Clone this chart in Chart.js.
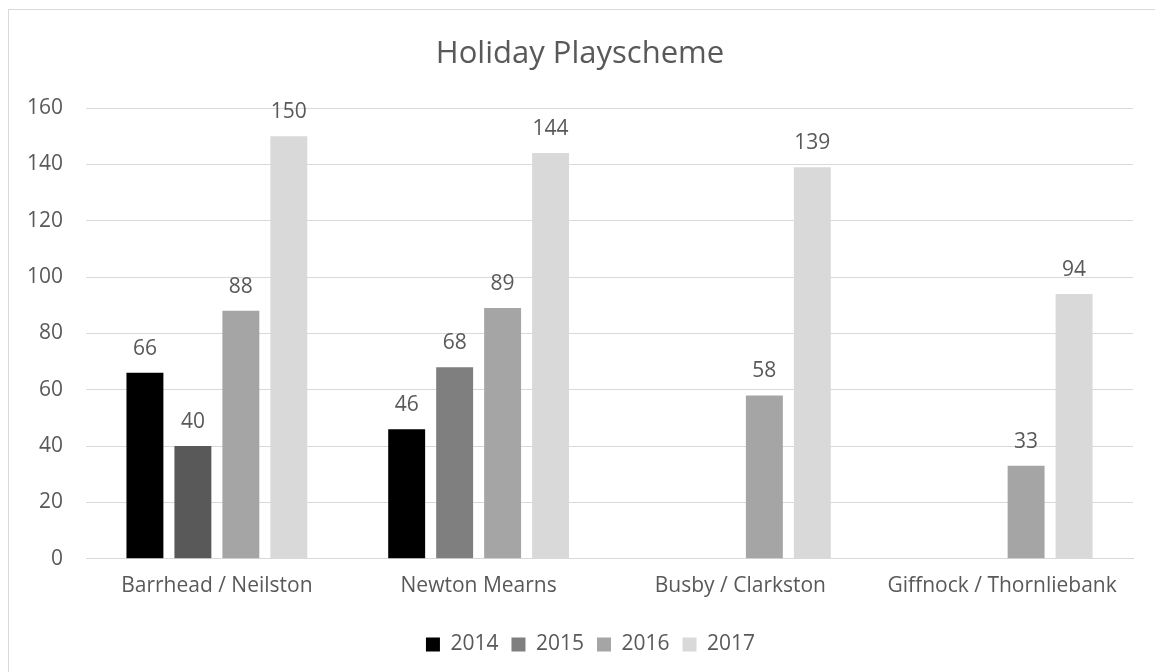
<!DOCTYPE html>
<html>
<head>
<meta charset="utf-8">
<script src="https://cdn.jsdelivr.net/npm/chart.js@4/dist/chart.umd.min.js"></script>
<style>
  html, body { margin: 0; padding: 0; background: #ffffff; overflow: hidden; }
  #frame { position: absolute; left: 8px; top: 9px; width: 1200px; height: 700px; border-top: 1px solid #d9d9d9; border-left: 1px solid #d9d9d9; }
  #c { position: absolute; left: 0; top: 0; display: block; }
</style>
</head>
<body>
<div id="frame"></div>
<canvas id="c" width="1155" height="672"></canvas>
<script>
const chartTitle = "Holiday Playscheme";
const categories = ["Barrhead / Neilston", "Newton Mearns", "Busby / Clarkston", "Giffnock / Thornliebank"];
const seriesNames = ["2014", "2015", "2016", "2017"];
const values2014 = [66, 46, null, null];
const values2015 = [40, 68, null, null];
const values2016 = [88, 89, 58, 33];
const values2017 = [150, 144, 139, 94];
const yTicks = [0, 20, 40, 60, 80, 100, 120, 140, 160];

const FONT = "'Open Sans', sans-serif";
const TEXT = "#595959";
const seriesColors = ['#000000', '#7f7f7f', '#a5a5a5', '#d9d9d9'];

const labelPlugin = {
  id: 'valueLabels',
  afterDatasetsDraw(chart) {
    const ctx = chart.ctx;
    ctx.save();
    ctx.font = "21px " + FONT;
    ctx.fillStyle = TEXT;
    ctx.textAlign = 'center';
    ctx.textBaseline = 'middle';
    chart.data.datasets.forEach((ds, i) => {
      const meta = chart.getDatasetMeta(i);
      meta.data.forEach((bar, j) => {
        const v = ds.data[j];
        if (v === null || v === undefined) return;
        ctx.fillText(String(v), bar.x, bar.y - 24);
      });
    });
    ctx.restore();
  }
};

const titlePlugin = {
  id: 'centeredTitle',
  afterLayout(chart) {
    // shift the legend box so it is centred like the reference
    if (chart.legend) {
      chart.legend.left += 24;
      chart.legend.right += 24;
    }
  },
  afterDraw(chart) {
    const ctx = chart.ctx;
    ctx.save();
    ctx.font = "31px " + FONT;
    ctx.fillStyle = TEXT;
    ctx.textAlign = 'center';
    ctx.textBaseline = 'alphabetic';
    ctx.fillText(chartTitle, 580, 63);
    ctx.restore();
  }
};

new Chart(document.getElementById('c'), {
  type: 'bar',
  data: {
    labels: categories,
    datasets: [
      { label: seriesNames[0], data: values2014, backgroundColor: seriesColors[0] },
      { label: seriesNames[1], data: values2015, backgroundColor: ['#595959', '#7f7f7f', '#7f7f7f', '#7f7f7f'] },
      { label: seriesNames[2], data: values2016, backgroundColor: seriesColors[2] },
      { label: seriesNames[3], data: values2017, backgroundColor: seriesColors[3] }
    ]
  },
  options: {
    responsive: false,
    animation: false,
    devicePixelRatio: 1,
    layout: { padding: { left: 0, right: 22, top: 108, bottom: 7 } },
    datasets: { bar: { categoryPercentage: 0.733, barPercentage: 0.77 } },
    plugins: {
      title: { display: false },
      legend: {
        position: 'bottom',
        labels: {
          color: TEXT,
          font: { family: FONT, size: 21 },
          boxWidth: 14,
          boxHeight: 14,
          padding: 13,
          generateLabels(chart) {
            return chart.data.datasets.map((ds, i) => ({
              text: ds.label, fillStyle: seriesColors[i], strokeStyle: seriesColors[i], lineWidth: 0,
              datasetIndex: i, fontColor: TEXT
            }));
          }
        }
      },
      tooltip: { enabled: false }
    },
    scales: {
      x: {
        grid: { display: false },
        border: { color: '#d9d9d9', width: 1 },
        afterFit(axis) { axis.height += 15; },
        ticks: { color: TEXT, font: { family: FONT, size: 21 }, padding: 7, maxRotation: 0, autoSkip: false }
      },
      y: {
        min: 0, max: 160,
        afterBuildTicks(axis) { axis.ticks = yTicks.map(v => ({ value: v })); },
        afterFit(axis) { axis.width = 86; },
        grid: { color: '#d9d9d9', drawTicks: false },
        border: { display: false },
        ticks: { color: TEXT, font: { family: FONT, size: 21 }, padding: 23 }
      }
    }
  },
  plugins: [labelPlugin, titlePlugin]
});
</script>
</body>
</html>
